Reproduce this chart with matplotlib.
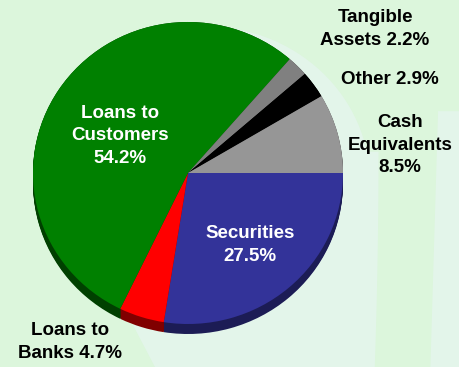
import numpy as np
import matplotlib.pyplot as plt
from matplotlib.patches import Ellipse, Polygon

# asset mix, clockwise from 3 o'clock
labels = ['Securities', 'Loans to Banks', 'Loans to Customers',
          'Tangible Assets', 'Other', 'Cash Equivalents']
shares = [27.5, 4.7, 54.2, 2.2, 2.9, 8.5]
top_colors = ['#333399', '#ff0000', '#008000', '#808080', '#000000', '#969696']
side_colors = ['#1c1c55', '#800000', '#004000', '#404040', '#000000', '#5a5a5a']

plt.rcParams['font.family'] = ['Liberation Sans', 'DejaVu Sans']

W, H = 459, 367
fig = plt.figure(figsize=(W / 100, H / 100), dpi=100)
fig.patch.set_facecolor('#dcf6dc')

# background layer in pixel coordinates
bg = fig.add_axes([0, 0, 1, 1])
bg.set_xlim(0, W)
bg.set_ylim(H, 0)
bg.axis('off')
light = '#e3f5ea'
yy = np.linspace(0, H, 200)
# faint lighter swooshes behind and right of the pie
bg.add_patch(Ellipse((204, 182), 332, 312, color=light, lw=0))
bg.fill_betweenx(yy, 250, 378 - 0.00008 * (yy - 150) ** 2,
                 where=yy > 150, color=light, lw=0)
bg.fill_betweenx(yy, 437 - 0.03 * (yy - 130), W,
                 where=yy > 110, color=light, lw=0)
bg.add_patch(Polygon([(133, 325), (265, 325), (290, 367), (155, 367)],
                     closed=True, color=light, lw=0))

# pie axes: centre at (188, 173) px, radii 155 x 151 px
cx, cy, rx, ry = 188, 173, 155, 151
ax = fig.add_axes([0, 0, 1, 1])
ax.patch.set_visible(False)

depth = 10 / ry
for d in np.linspace(depth, 0, 12):
    ax.pie(shares, colors=side_colors, startangle=0, counterclock=False,
           center=(0, -d), radius=1, wedgeprops=dict(linewidth=0))
ax.pie(shares, colors=top_colors, startangle=0, counterclock=False,
       center=(0, 0), radius=1, wedgeprops=dict(linewidth=0))
ax.set_aspect('auto')
ax.set_xlim(-cx / rx, (W - cx) / rx)
ax.set_ylim(-(H - cy) / ry, cy / ry)
ax.axis('off')

# labels sit on their own layer above the pie
lab = fig.add_axes([0, 0, 1, 1])
lab.patch.set_visible(False)
lab.set_xlim(0, W)
lab.set_ylim(H, 0)
lab.axis('off')

txt = dict(fontsize=13.5, fontweight='bold', ha='center', va='center',
           linespacing=1.45)
lab.text(120, 136, 'Loans to\nCustomers\n54.2%', color='white', **txt)
lab.text(250, 245, 'Securities\n27.5%', color='white', **txt)
lab.text(375, 29, 'Tangible\nAssets 2.2%', color='black', **txt)
lab.text(390, 80, 'Other 2.9%', color='black', **txt)
lab.text(400, 145, 'Cash\nEquivalents\n8.5%', color='black', **txt)
lab.text(70, 342, 'Loans to\nBanks 4.7%', color='black', **txt)

fig.savefig('out.png', dpi=100, facecolor=fig.get_facecolor())
